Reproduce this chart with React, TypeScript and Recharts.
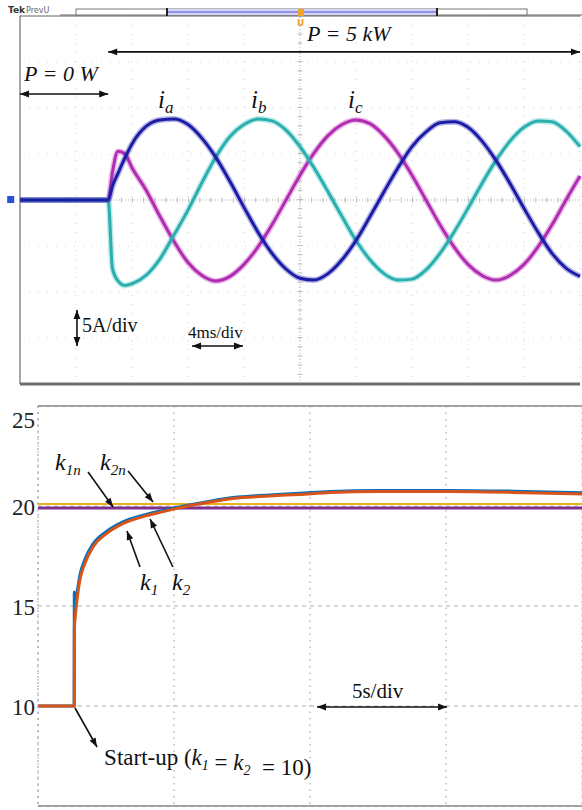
import { CartesianGrid, Line, LineChart, ReferenceDot, ReferenceLine, XAxis, YAxis } from "recharts";

// top panel: phase currents, time in ms, current in A (5 A/div, 4 ms/div)
const currentTime = [0, 6.3, 6.6, 7, 7.5, 8, 9, 10, 11, 12, 13, 14, 15, 16, 17, 18, 19, 20, 21, 22, 23, 24, 25, 26, 27, 28, 29, 30, 31, 32, 33, 34, 35, 36, 37, 38, 39, 40];
const currentA = [0, 0, 1.5, 2.9, 4.6, 6.1, 8.0, 8.7, 8.8, 8.2, 6.7, 4.6, 2.0, -0.8, -3.5, -5.8, -7.5, -8.5, -8.7, -8.0, -6.5, -4.4, -1.8, 0.9, 3.5, 5.8, 7.4, 8.4, 8.5, 7.9, 6.4, 4.3, 1.8, -0.9, -3.5, -5.8, -7.4, -8.3];
const currentB = [0, 0, -7.4, -8.8, -9.3, -9.1, -8.2, -6.4, -3.8, -1.1, 1.9, 4.7, 6.9, 8.2, 8.8, 8.6, 7.6, 5.8, 3.5, 0.9, -1.8, -4.4, -6.5, -8.0, -8.7, -8.6, -7.6, -5.8, -3.5, -0.9, 1.8, 4.3, 6.4, 7.9, 8.6, 8.5, 7.5, 5.8];
const currentC = [0, 0, 3.0, 5.3, 5.0, 3.5, 1.1, -1.8, -4.5, -6.8, -8.2, -8.8, -8.3, -7.0, -5.1, -2.7, 0, 2.7, 5.1, 7.0, 8.2, 8.7, 8.3, 7.0, 5.1, 2.7, 0, -2.7, -5.1, -7.0, -8.2, -8.7, -8.2, -7.0, -5.1, -2.7, 0, 2.6];
const timeTicks = [0, 4, 8, 12, 16, 20, 24, 28, 32, 36, 40];
const ampTicks = [-20, -15, -10, -5, 0, 5, 10, 15, 20];

// bottom panel: gains k1, k2 and nominal k1n, k2n, time in s (5 s/div)
const gainTime = [0, 1.33, 1.335, 1.36, 1.42, 1.54, 1.73, 2.03, 2.53, 3.14, 3.87, 4.61, 5.1, 6.32, 7.17, 8.5, 9.63, 10.74, 12.57, 15.04, 17.46, 20];
const gainK1 = [10, 10, 15.7, 14.9, 15.5, 16.55, 17.35, 18.12, 18.74, 19.22, 19.54, 19.78, 19.93, 20.24, 20.42, 20.55, 20.64, 20.73, 20.78, 20.78, 20.74, 20.66];
const gainK2 = [10, 10, 13.8, 14.3, 15.15, 16.3, 17.15, 17.97, 18.63, 19.13, 19.47, 19.72, 19.88, 20.2, 20.38, 20.5, 20.58, 20.67, 20.72, 20.72, 20.68, 20.6];
const nominalTime = [0, 20];
const nominalK1n = [19.9, 19.9];
const nominalK2n = [20.1, 20.1];
const gainTicks = [5, 10, 15, 20, 25];
const secondTicks = [0, 5, 10, 15, 20];

const SERIF = "'Liberation Serif', 'Times New Roman', serif";

const currentRows = currentTime.map((t, i) => ({ t, ia: currentA[i], ib: currentB[i], ic: currentC[i] }));
const gainRows = gainTime.map((t, i) => ({ t, k1: gainK1[i], k2: gainK2[i] }));
const nominalRows = nominalTime.map((t, i) => ({ t, k1n: nominalK1n[i], k2n: nominalK2n[i] }));

// arrow drawn along a reference segment
const arrow = (both: boolean) => (p: any) => {
  const { x1, y1, x2, y2 } = p;
  const head = (x: number, y: number, a: number) => {
    const L = 9, H = 3.4;
    const bx = x - L * Math.cos(a), by = y - L * Math.sin(a);
    return `${x},${y} ${bx + H * Math.sin(a)},${by - H * Math.cos(a)} ${bx - H * Math.sin(a)},${by + H * Math.cos(a)}`;
  };
  const a = Math.atan2(y2 - y1, x2 - x1);
  return (
    <g>
      <line x1={x1} y1={y1} x2={x2} y2={y2} stroke="#111" strokeWidth={1.6} />
      <polygon points={head(x2, y2, a)} fill="#111" />
      {both && <polygon points={head(x1, y1, a + Math.PI)} fill="#111" />}
    </g>
  );
};

const label = (content: React.ReactNode, size: number, italic = false) => (p: any) => (
  <text x={p.cx} y={p.cy} fontFamily={SERIF} fontSize={size} fontStyle={italic ? "italic" : "normal"} fill="#111" style={{ whiteSpace: "pre" }}>
    {content}
  </text>
);

const sub = (main: string, s: string, size = 24, subSize = 15) => (
  <>
    <tspan fontStyle="italic" fontSize={size}>{main}</tspan>
    <tspan fontStyle="italic" fontSize={subSize} dy={5}>{s}</tspan>
    <tspan dy={-5}>{""}</tspan>
  </>
);

const GainTick = (p: any) => {
  const v = p.payload.value;
  const dy = v === 25 ? 14 : v === 5 ? -5 : 1;
  return (
    <text x={p.x} y={p.y + dy} textAnchor="end" dominantBaseline="central" fontFamily={SERIF} fontSize={23} fill="#222">
      {v}
    </text>
  );
};

function TekBar() {
  return (
    <svg width={582} height={30} style={{ position: "absolute", left: 0, top: 0 }}>
      <text x={8} y={13} fontFamily="DejaVu Sans" fontSize={9} fontWeight="bold" fill="#333">Tek</text>
      <text x={26} y={13} fontFamily="DejaVu Sans" fontSize={8} fill="#666">PrevU</text>
      <line x1={60} y1={15} x2={582} y2={15} stroke="#666" strokeWidth={1} />
      <rect x={76} y={9} width={451} height={6} fill="#fff" stroke="#777" strokeWidth={1} />
      <rect x={167} y={9} width={270} height={6} fill="#d4d4f6" />
      <line x1={167} y1={12} x2={437} y2={12} stroke="#7c7ce0" strokeWidth={1.5} />
      <line x1={167} y1={8} x2={167} y2={16} stroke="#222" strokeWidth={2} />
      <line x1={437} y1={8} x2={437} y2={16} stroke="#222" strokeWidth={2} />
      <rect x={298} y={9} width={6} height={7} fill="#f2a32a" />
      <text x={297} y={26} fontFamily="DejaVu Sans" fontSize={9} fontWeight="bold" fill="#f2a32a">U</text>
    </svg>
  );
}

function CurrentPanel() {
  return (
    <LineChart width={582} height={392} data={currentRows} margin={{ top: 16, right: 2, left: 20, bottom: 8 }}>
      <XAxis dataKey="t" type="number" domain={[0, 40]} ticks={timeTicks} hide />
      <YAxis type="number" domain={[-20, 20]} ticks={ampTicks} hide />
      <CartesianGrid stroke="#cfcfcf" strokeDasharray="1 8" />
      <ReferenceLine x={20} stroke="#b5b5b5" strokeDasharray="1 2" />
      <ReferenceLine x={20} stroke="#bdbdbd" strokeWidth={5} strokeDasharray="1 8.2" />
      <ReferenceLine y={0} stroke="#b5b5b5" strokeDasharray="1 2" />
      <ReferenceLine y={0} stroke="#bdbdbd" strokeWidth={5} strokeDasharray="1 10.2" />
      <ReferenceLine x={0} stroke="#8a8a8a" strokeWidth={1.5} />
      <ReferenceLine y={-20} stroke="#6e6e6e" strokeWidth={3} />
      <ReferenceLine y={20} stroke="#666" />

      <Line dataKey="ic" type="monotone" stroke="#c040c0" strokeWidth={6} strokeOpacity={0.35} dot={false} isAnimationActive={false} />
      <Line dataKey="ic" type="monotone" stroke="#b02cb0" strokeWidth={3} dot={false} isAnimationActive={false} />
      <Line dataKey="ib" type="monotone" stroke="#40c0c0" strokeWidth={6} strokeOpacity={0.35} dot={false} isAnimationActive={false} />
      <Line dataKey="ib" type="monotone" stroke="#2aaeae" strokeWidth={3} dot={false} isAnimationActive={false} />
      <Line dataKey="ia" type="monotone" stroke="#3030b8" strokeWidth={6} strokeOpacity={0.35} dot={false} isAnimationActive={false} />
      <Line dataKey="ia" type="monotone" stroke="#1c1ca6" strokeWidth={3} dot={false} isAnimationActive={false} />

      <ReferenceDot x={-0.7} y={0} ifOverflow="visible" shape={(p: any) => <rect x={p.cx - 3} y={p.cy - 4} width={7} height={7} fill="#2a4fd8" />} />

      <ReferenceDot x={20.5} y={17.28} ifOverflow="visible" shape={label("P = 5 kW", 22, true)} />
      <ReferenceLine segment={[{ x: 6.3, y: 16.1 }, { x: 40, y: 16.1 }]} ifOverflow="visible" shape={arrow(true)} />
      <ReferenceDot x={0.29} y={12.93} ifOverflow="visible" shape={label("P = 0 W", 22, true)} />
      <ReferenceLine segment={[{ x: 0, y: 11.52 }, { x: 6.3, y: 11.52 }]} ifOverflow="visible" shape={arrow(true)} />

      <ReferenceDot x={9.86} y={10} ifOverflow="visible" shape={label(sub("i", "a", 25, 17), 25)} />
      <ReferenceDot x={16.5} y={10} ifOverflow="visible" shape={label(sub("i", "b", 25, 17), 25)} />
      <ReferenceDot x={23.43} y={10} ifOverflow="visible" shape={label(sub("i", "c", 25, 17), 25)} />

      <ReferenceLine segment={[{ x: 4.07, y: -11.96 }, { x: 4.07, y: -15.87 }]} ifOverflow="visible" shape={arrow(true)} />
      <ReferenceDot x={4.43} y={-14.35} ifOverflow="visible" shape={label("5A/div", 20)} />
      <ReferenceDot x={12} y={-15.0} ifOverflow="visible" shape={label("4ms/div", 17)} />
      <ReferenceLine segment={[{ x: 12.29, y: -15.87 }, { x: 15.93, y: -15.87 }]} ifOverflow="visible" shape={arrow(true)} />
    </LineChart>
  );
}

function GainPanel() {
  return (
    <LineChart width={582} height={420} margin={{ top: 16, right: 0, left: 0, bottom: 4 }}>
      <XAxis dataKey="t" type="number" domain={[0, 20]} ticks={secondTicks} hide />
      <YAxis
        type="number"
        domain={[5, 25]}
        ticks={gainTicks}
        width={38}
        tickSize={0}
        tickMargin={3}
        tick={GainTick}
        axisLine={{ stroke: "#9a9a9a", strokeDasharray: "2 4" }}
      />
      <CartesianGrid vertical={false} stroke="#b0b0b0" strokeDasharray="4 4" />
      <CartesianGrid horizontal={false} stroke="#9a9a9a" strokeDasharray="1.5 5" />
      <ReferenceLine y={25} stroke="#8a8a8a" strokeWidth={1.5} />
      <ReferenceLine y={5} stroke="#8a8a8a" strokeWidth={1.5} />

      <Line data={nominalRows} dataKey="k2n" type="linear" stroke="#EDB120" strokeWidth={2} dot={false} isAnimationActive={false} />
      <Line data={nominalRows} dataKey="k1n" type="linear" stroke="#7E2F8E" strokeWidth={3} dot={false} isAnimationActive={false} />
      <Line data={gainRows} dataKey="k1" type="monotone" stroke="#0072BD" strokeWidth={3} dot={false} isAnimationActive={false} />
      <Line data={gainRows} dataKey="k2" type="monotone" stroke="#D95319" strokeWidth={3} dot={false} isAnimationActive={false} />

      <ReferenceDot x={0.625} y={21.8} ifOverflow="visible" shape={label(sub("k", "1n", 24, 15), 24)} />
      <ReferenceDot x={2.28} y={21.8} ifOverflow="visible" shape={label(sub("k", "2n", 24, 15), 24)} />
      <ReferenceLine segment={[{ x: 1.84, y: 21.7 }, { x: 2.76, y: 19.95 }]} ifOverflow="visible" shape={arrow(false)} />
      <ReferenceLine segment={[{ x: 3.31, y: 21.75 }, { x: 4.23, y: 20.2 }]} ifOverflow="visible" shape={arrow(false)} />

      <ReferenceDot x={3.75} y={15.8} ifOverflow="visible" shape={label(sub("k", "1", 24, 15), 24)} />
      <ReferenceDot x={4.93} y={15.8} ifOverflow="visible" shape={label(sub("k", "2", 24, 15), 24)} />
      <ReferenceLine segment={[{ x: 3.75, y: 16.95 }, { x: 3.27, y: 18.75 }]} ifOverflow="visible" shape={arrow(false)} />
      <ReferenceLine segment={[{ x: 4.96, y: 16.95 }, { x: 4.12, y: 19.35 }]} ifOverflow="visible" shape={arrow(false)} />

      <ReferenceDot x={11.54} y={10.4} ifOverflow="visible" shape={label("5s/div", 21)} />
      <ReferenceLine segment={[{ x: 10.26, y: 9.95 }, { x: 15.04, y: 9.95 }]} ifOverflow="visible" shape={arrow(true)} />

      <ReferenceLine segment={[{ x: 1.36, y: 9.9 }, { x: 2.17, y: 7.95 }]} ifOverflow="visible" shape={arrow(false)} />
      <ReferenceDot
        x={2.43}
        y={7.05}
        ifOverflow="visible"
        shape={label(
          <>
            {"Start-up ("}
            {sub("k", "1", 23, 14)}
            {" = "}
            {sub("k", "2", 23, 14)}
            {"  = 10)"}
          </>,
          23
        )}
      />
    </LineChart>
  );
}

export default function App() {
  return (
    <div style={{ position: "absolute", left: 0, top: 0, width: 582, height: 810, background: "#fff", overflow: "hidden" }}>
      <div style={{ position: "absolute", left: 0, top: 0 }}>
        <CurrentPanel />
      </div>
      <div style={{ position: "absolute", left: 0, top: 390 }}>
        <GainPanel />
      </div>
      <TekBar />
    </div>
  );
}
